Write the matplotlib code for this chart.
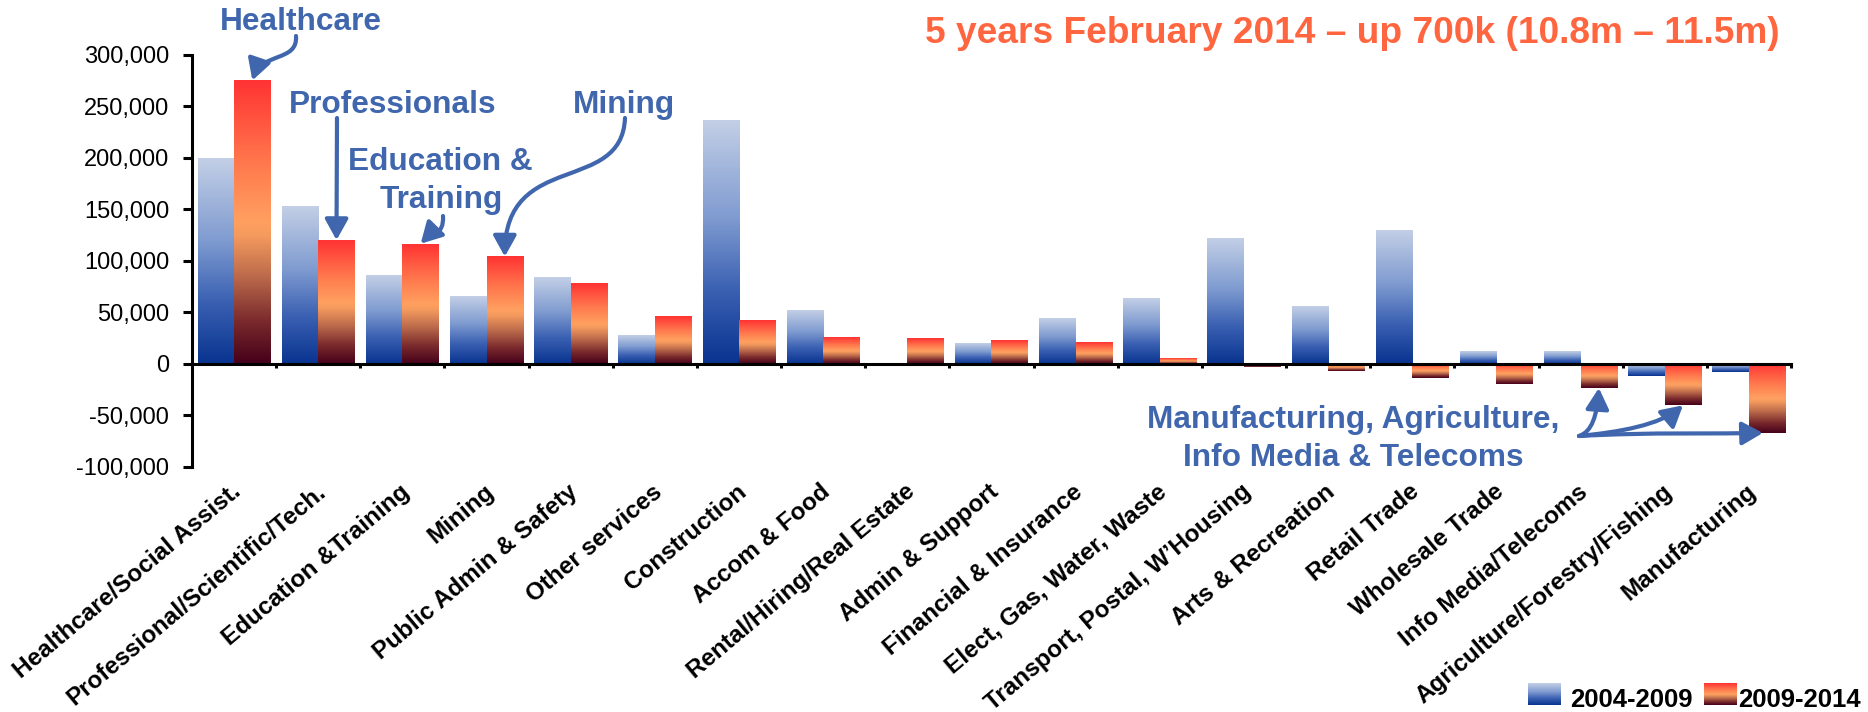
import numpy as np
import matplotlib.pyplot as plt
from matplotlib.colors import LinearSegmentedColormap
from matplotlib.patches import FancyArrowPatch
from matplotlib.path import Path
from matplotlib.transforms import IdentityTransform
from matplotlib.ticker import FuncFormatter

plt.rcParams['font.family'] = ['Liberation Sans', 'DejaVu Sans']

categories = ['Healthcare/Social Assist.', 'Professional/Scientific/Tech.', 'Education &Training',
              'Mining', 'Public Admin & Safety', 'Other services', 'Construction', 'Accom & Food',
              'Rental/Hiring/Real Estate', 'Admin & Support', 'Financial & Insurance',
              'Elect, Gas, Water, Waste', 'Transport, Postal, W\u2019Housing', 'Arts & Recreation',
              'Retail Trade', 'Wholesale Trade', 'Info Media/Telecoms',
              'Agriculture/Forestry/Fishing', 'Manufacturing']
growth_04_09 = [200000, 153000, 86000, 66000, 84000, 27500, 236500, 52000, -1500, 19700,
                43800, 63500, 122000, 55500, 130000, 12000, 12000, -12000, -8000]
growth_09_14 = [275000, 120000, 116500, 104000, 78500, 46000, 42700, 25400, 24500, 22600,
                20700, 5200, -3500, -7000, -14000, -19700, -23600, -40400, -67200]
series_names = ['2004-2009', '2009-2014']
yticks = [-100000, -50000, 0, 50000, 100000, 150000, 200000, 250000, 300000]

W, H = 1868, 712
ann_blue = '#4066AD'
title_orange = '#FF6640'

blue_cmap = LinearSegmentedColormap.from_list(
    'blu', [(0, '#08338F'), (0.3, '#3A60B2'), (0.6, '#7F9BD0'), (1, '#C3CFE6')])
red_cmap = LinearSegmentedColormap.from_list(
    'red', [(0, '#45001A'), (0.15, '#7A2A2C'), (0.3, '#B8674A'), (0.45, '#F49A5E'),
            (0.5, '#FFA060'), (0.7, '#FF7A4E'), (1, '#FF3333')])
grad = np.linspace(0, 1, 256).reshape(-1, 1)

fig = plt.figure(figsize=(W / 100, H / 100), dpi=100)
ax = fig.add_axes([192 / W, 1 - 466.7 / H, (1791 - 192) / W, (466.7 - 54.7) / H])

x = np.arange(len(categories))
w = 0.434
bars1 = ax.bar(x - w / 2, growth_04_09, w, color='none', edgecolor='none')
bars2 = ax.bar(x + w / 2, growth_09_14, w, color='none', edgecolor='none')

for bars, cmap in [(bars1, blue_cmap), (bars2, red_cmap)]:
    for r in bars:
        x0 = r.get_x()
        y0, y1 = sorted([r.get_y(), r.get_y() + r.get_height()])
        ax.imshow(grad, cmap=cmap, extent=[x0, x0 + r.get_width(), y0, y1], origin='lower',
                  aspect='auto', interpolation='bilinear', zorder=1)

ax.set_xlim(-0.5, len(categories) - 0.5)
ax.set_ylim(-100000, 300000)
ax.set_yticks(yticks)
ax.yaxis.set_major_formatter(FuncFormatter(lambda v, p: f'{v:,.0f}'))
ax.tick_params(axis='y', labelsize=17, length=6.5, width=2.2, pad=10)

ax.spines['top'].set_visible(False)
ax.spines['right'].set_visible(False)
ax.spines['left'].set_linewidth(2.2)
ax.spines['bottom'].set_position(('data', 0))
ax.spines['bottom'].set_linewidth(2.2)
ax.spines['bottom'].set_zorder(3)
ax.set_xticks(x + 0.5)
ax.set_xticklabels([])
ax.tick_params(axis='x', length=3, width=2.2)

lab_tr = ax.get_xaxis_transform()
for i, c in enumerate(categories):
    ax.text(i + 0.1, -0.066, c, transform=lab_tr, rotation=40, rotation_mode='anchor',
            ha='right', va='baseline', fontsize=17.5, fontweight='bold')


def fig_text(xp, yp, s, **kw):
    fig.text(xp / W, 1 - yp / H, s, **kw)


def arrow(pts, tip, curved=True):
    tx, ty = ax.transData.transform(tip)
    verts = [(px, H - py) for px, py in pts] + [(tx, ty)]
    if curved:
        codes = [Path.MOVETO, Path.CURVE4, Path.CURVE4, Path.CURVE4]
    else:
        codes = [Path.MOVETO, Path.LINETO]
    p = FancyArrowPatch(path=Path(verts, codes), arrowstyle='-|>,head_length=0.9,head_width=0.5',
                        mutation_scale=14, lw=3, color=ann_blue, transform=IdentityTransform())
    fig.add_artist(p)


ann = dict(fontsize=22.8, fontweight='bold', color=ann_blue, ha='center', va='baseline')
fig_text(301, 30, 'Healthcare', **ann)
fig_text(392.5, 113, 'Professionals', **ann)
fig_text(440, 170, 'Education &', **ann)
fig_text(441, 208, 'Training', **ann)
fig_text(624, 113, 'Mining', **ann)
fig_text(1353, 428, 'Manufacturing, Agriculture,', **ann)
fig_text(1353, 466, 'Info Media & Telecoms', **ann)

fig_text(925, 43, '5 years February 2014 \u2013 up 700k (10.8m \u2013 11.5m)', fontsize=26.7,
         fontweight='bold', color=title_orange, ha='left', va='baseline')

arrow([(296, 36), (298, 62), (262, 52)], (0 + w / 2, growth_09_14[0]))
arrow([(337, 118)], (1 + w / 2, growth_09_14[1]), curved=False)
arrow([(443, 216), (444, 236), (432, 232)], (2 + w / 2, growth_09_14[2]))
arrow([(625, 118), (622, 195), (505, 150)], (3 + w / 2, growth_09_14[3]))
arrow([(1579, 436), (1592, 432), (1597, 415)], (16 + w / 2, growth_09_14[16]))
arrow([(1579, 436), (1620, 432), (1660, 425)], (17 + w / 2, growth_09_14[17]))
arrow([(1579, 436), (1650, 432), (1720, 434)], (18 + w / 2 - 0.05, growth_09_14[18]))

# legend
for xp, cmap, name in [(1528, blue_cmap, series_names[0]), (1704, red_cmap, series_names[1])]:
    lax = fig.add_axes([xp / W, 1 - 705 / H, 33 / W, 22 / H])
    lax.imshow(grad, cmap=cmap, origin='lower', aspect='auto', interpolation='bilinear')
    lax.axis('off')
    fig_text(xp + 42 if name == series_names[0] else xp + 34, 707, name, fontsize=18.5,
             fontweight='bold', ha='left', va='baseline')

fig.savefig('out.png', dpi=100)
